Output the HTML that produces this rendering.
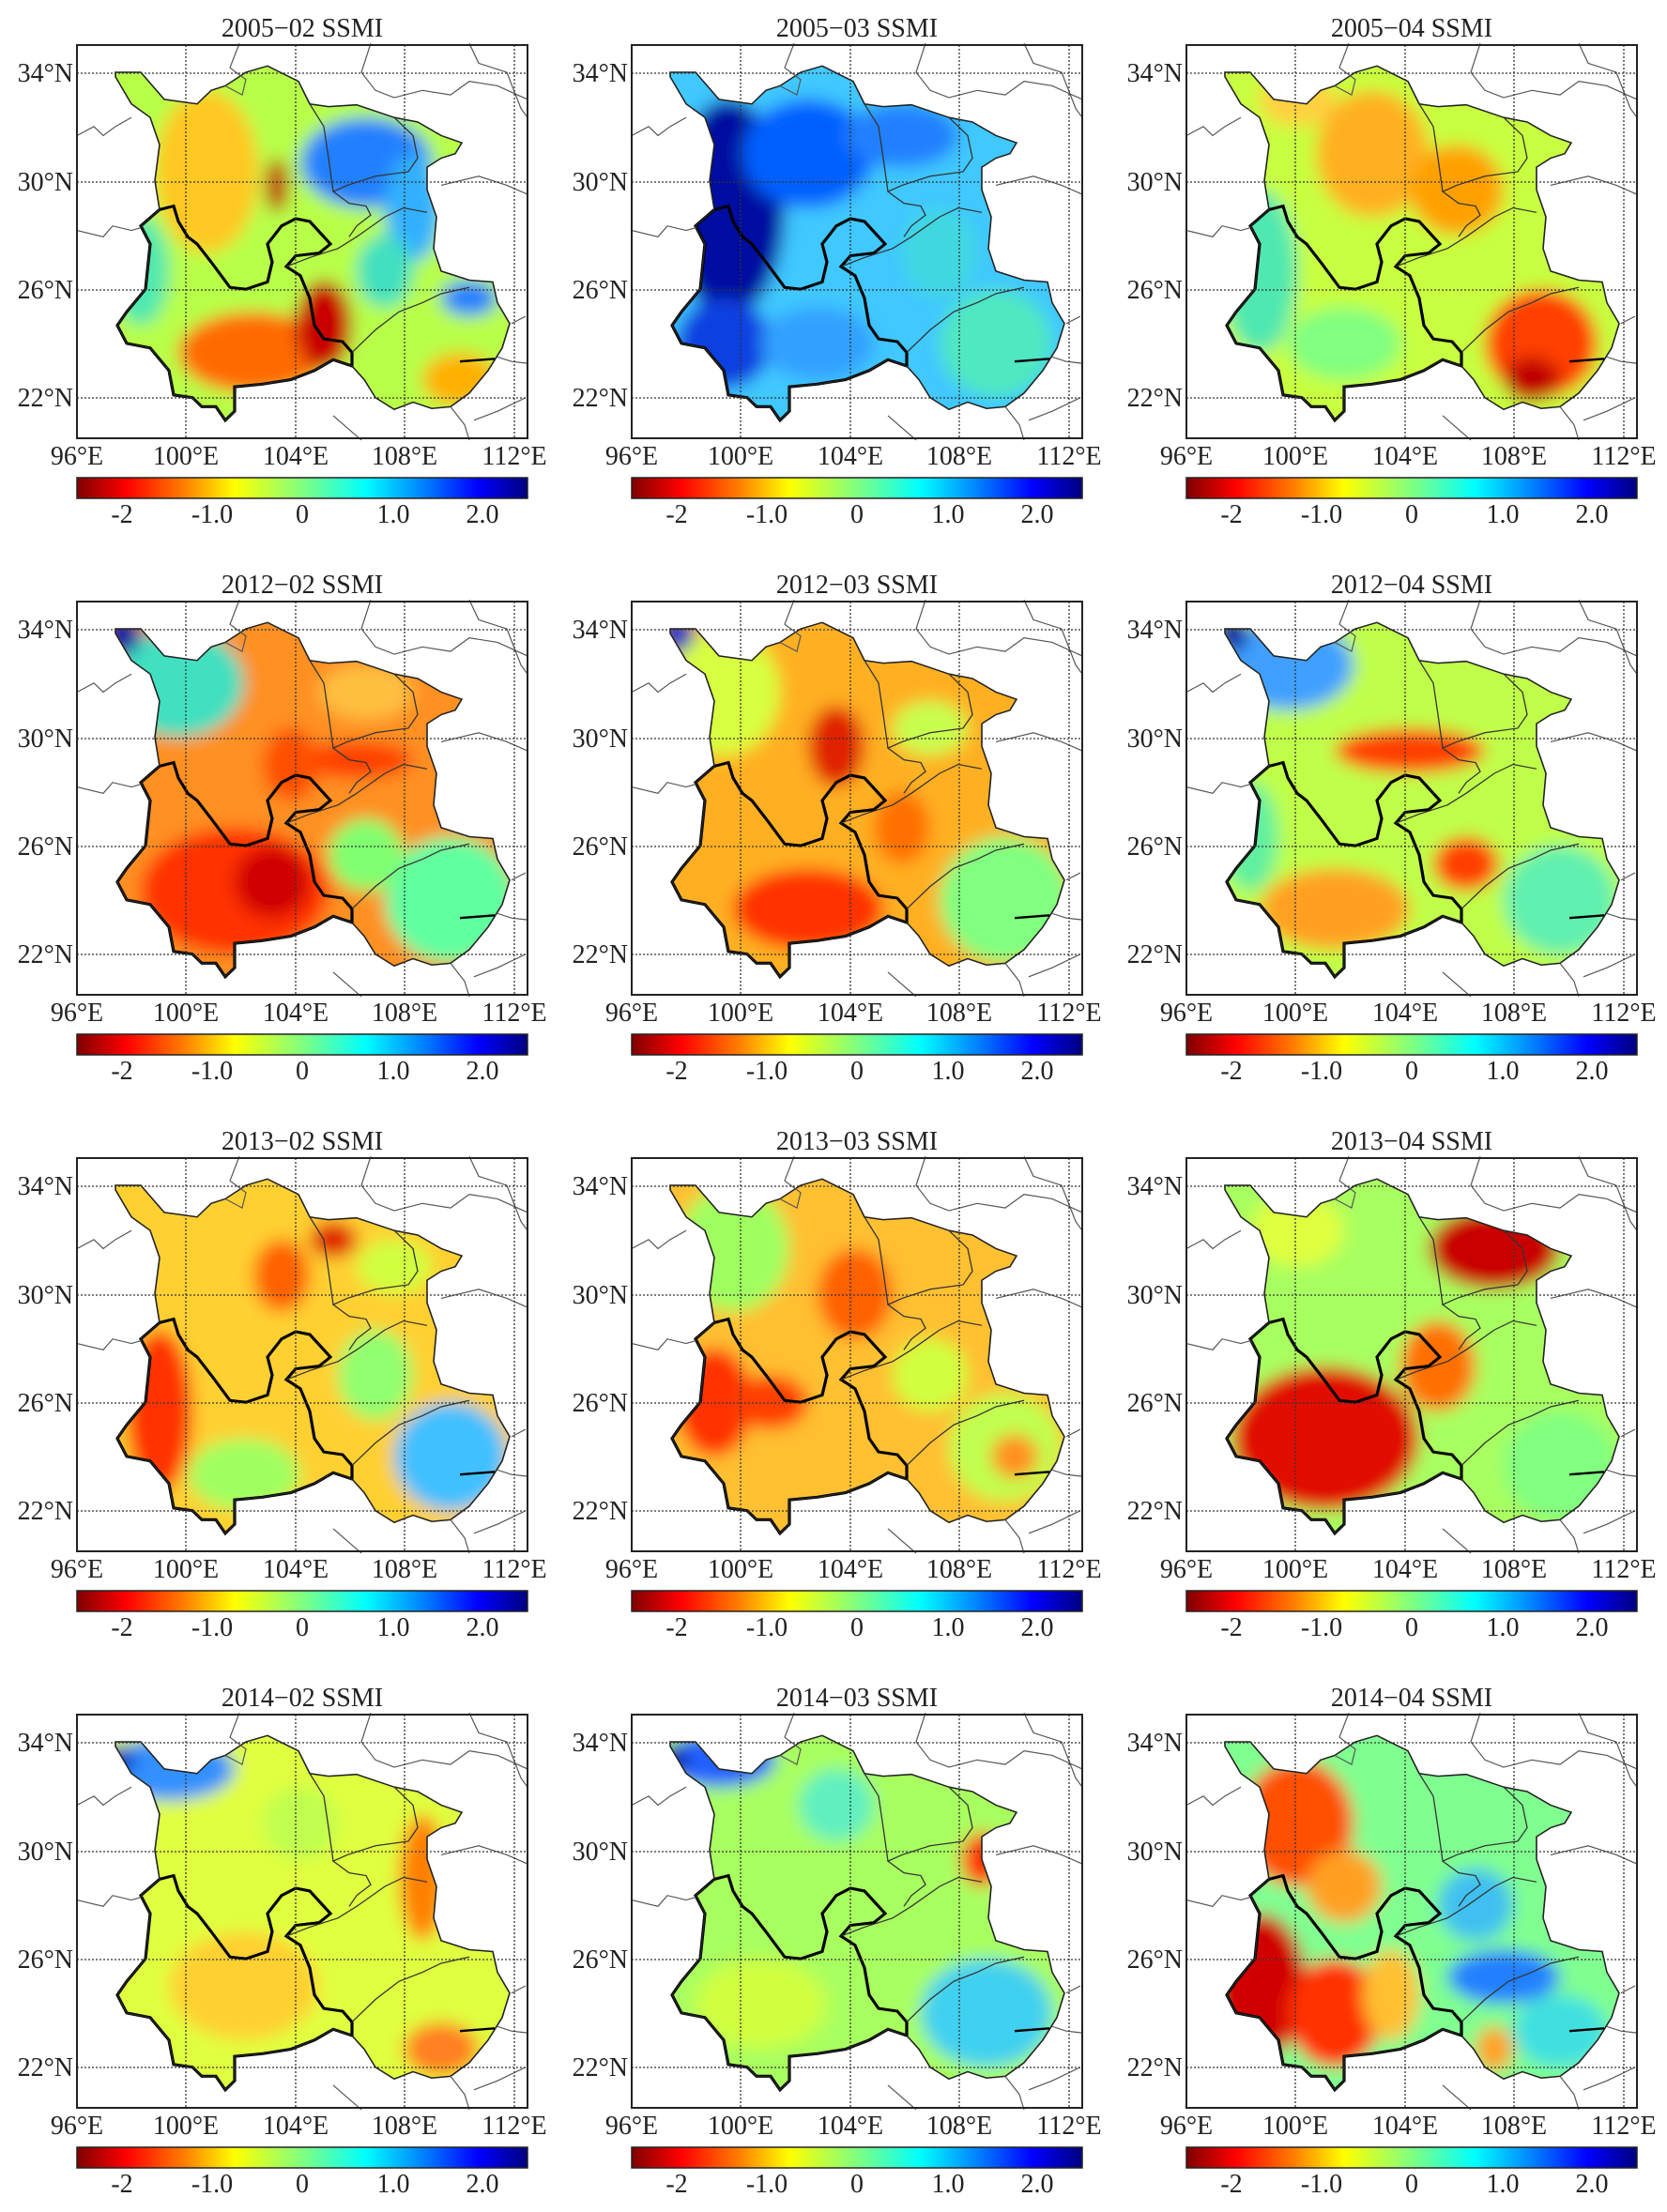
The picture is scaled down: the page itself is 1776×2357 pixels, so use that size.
<!DOCTYPE html>
<html><head><meta charset="utf-8">
<style>
html,body{margin:0;padding:0;background:#fff;}
#c{position:relative;width:1776px;height:2357px;overflow:hidden;background:#fff;}
svg.p{position:absolute;width:592px;height:593px;overflow:visible;}
text{font-family:"Liberation Serif",serif;font-size:28px;fill:#222;}
</style></head><body><div id="c">
<svg width="0" height="0" style="position:absolute">
<defs>
<linearGradient id="cb" x1="0" x2="1" y1="0" y2="0">
<stop offset="0" stop-color="#800000"/><stop offset="0.11" stop-color="#ff0000"/><stop offset="0.24" stop-color="#ff8000"/><stop offset="0.35" stop-color="#ffff00"/><stop offset="0.5" stop-color="#80ff80"/><stop offset="0.64" stop-color="#00ffff"/><stop offset="0.77" stop-color="#0080ff"/><stop offset="0.89" stop-color="#0000ff"/><stop offset="1" stop-color="#000080"/>
</linearGradient>
<path id="ol" d="M123,80 L150,80 L175,110 L210,115 L225,100 L240,95 L262,80 L285,73 L318,90 L330,115 L350,118 L380,116 L420,130 L445,135 L470,150 L492,158 L485,170 L470,175 L455,185 L455,210 L465,240 L462,275 L470,300 L500,310 L525,312 L530,335 L543,358 L535,385 L520,410 L500,435 L480,450 L460,452 L440,445 L420,453 L400,440 L388,420 L375,405 L355,398 L335,410 L310,420 L280,425 L250,428 L250,455 L240,465 L230,450 L215,450 L205,440 L185,437 L180,410 L160,385 L135,380 L125,360 L135,345 L155,320 L160,270 L150,250 L170,232 L165,200 L170,160 L160,130 L140,115 L123,85 Z"/>
<clipPath id="clip"><use href="#ol"/></clipPath>
<filter id="bl" filterUnits="userSpaceOnUse" x="0" y="0" width="600" height="600"><feGaussianBlur stdDeviation="9"/></filter>
<g id="lines">
<path d="M170,232 L185,228 L190,245 L200,262 L210,270 L225,290 L245,318 L262,320 L285,312 L290,290 L285,270 L300,250 L315,242 L330,245 L345,262 L352,270 L340,280 L315,283 L305,295 L320,305 L330,330 L335,360 L345,375 L365,378 L375,390 L375,405 L355,398 L335,410 L310,420 L280,425 L250,428 L250,455 L240,465 L230,450 L215,450 L205,440 L185,437 L180,410 L160,385 L135,380 L125,360 L135,345 L155,320 L160,270 L150,250 L170,232" fill="none" stroke="#000" stroke-width="3.2"/>
<use href="#ol" fill="none" stroke="#222" stroke-width="1.6"/>
<g fill="none" stroke="#333" stroke-width="1.3">
<path d="M420,130 L440,150 L445,175 L435,190 L400,195 L370,205 L355,212 L372,225 L390,228 L395,238 L380,250 L372,262"/>
<path d="M305,295 L330,285 L360,275 L380,262 L410,240 L430,230 L455,235"/>
<path d="M375,390 L400,365 L425,345 L450,335 L470,325 L500,318"/>
<path d="M330,115 L345,140 L350,175 L355,212"/>
</g>
<g fill="none" stroke="#555" stroke-width="1.2">
<path d="M255,48 L245,75 L262,88 L258,105 L240,95"/>
<path d="M395,48 L385,80 L400,100 L420,108 L450,100 L480,105 L500,90 L530,95 L562,110"/>
<path d="M500,48 L510,70 L540,80 L555,120 L562,130"/>
<path d="M82,150 L100,140 L110,150 L123,140 L140,130"/>
<path d="M82,255 L110,262 L120,250 L140,255 L150,252"/>
<path d="M470,205 L510,195 L540,205 L562,215"/>
<path d="M530,395 L545,400 L562,402"/>
<path d="M355,460 L385,487"/>
<path d="M480,450 L495,470 L500,487"/>
<path d="M505,465 L530,455 L560,440"/>
<path d="M545,358 L560,350"/>
</g>
<path d="M490,400 L527,397" stroke="#000" stroke-width="2.5"/>
</g>
</defs></svg>

<!-- Row 1 -->
<svg class="p" style="left:0;top:0"><text x="322" y="39" text-anchor="middle">2005−02 SSMI</text>
<g transform="scale(1,0.963)"><g clip-path="url(#clip)"><g filter="url(#bl)"><rect x="100" y="60" width="460" height="420" fill="#b8ff48"/>
<ellipse cx="220" cy="190" rx="55" ry="90" fill="#ffc820"/><ellipse cx="390" cy="180" rx="70" ry="50" fill="#2080ff"/><ellipse cx="440" cy="230" rx="30" ry="60" fill="#30b0ff"/><ellipse cx="270" cy="390" rx="80" ry="45" fill="#ff6a00"/><ellipse cx="345" cy="360" rx="30" ry="50" fill="#c80000"/><ellipse cx="410" cy="300" rx="30" ry="40" fill="#40e0c0"/><ellipse cx="490" cy="420" rx="40" ry="30" fill="#ffb000"/><ellipse cx="500" cy="330" rx="30" ry="20" fill="#2080ff"/><ellipse cx="150" cy="300" rx="30" ry="60" fill="#50e8b0"/><ellipse cx="295" cy="205" rx="12" ry="30" fill="#c00000"/></g></g>
<use href="#lines"/></g>
<g stroke="#333" stroke-width="1.3" stroke-dasharray="2 2"><path d="M198,48V467M315,48V467M431,48V467M548,48V467M82,78H562M82,194H562M82,309H562M82,424H562"/></g>
<rect x="82" y="48" width="480" height="419" fill="none" stroke="#222" stroke-width="2"/>
<g text-anchor="end"><text x="78" y="87">34°N</text><text x="78" y="203">30°N</text><text x="78" y="318">26°N</text><text x="78" y="433">22°N</text></g>
<g text-anchor="middle"><text x="82" y="495">96°E</text><text x="198" y="495">100°E</text><text x="315" y="495">104°E</text><text x="431" y="495">108°E</text><text x="548" y="495">112°E</text></g>
<rect x="82" y="509" width="480" height="22" fill="url(#cb)" stroke="#222" stroke-width="1.5"/>
<g text-anchor="middle"><text x="130" y="557">-2</text><text x="226" y="557">-1.0</text><text x="322" y="557">0</text><text x="419" y="557">1.0</text><text x="514" y="557">2.0</text></g></svg>

<svg class="p" style="left:591px;top:0"><text x="322" y="39" text-anchor="middle">2005−03 SSMI</text>
<g transform="scale(1,0.963)"><g clip-path="url(#clip)"><g filter="url(#bl)"><rect x="100" y="60" width="460" height="420" fill="#40c8ff"/>
<ellipse cx="185" cy="230" rx="60" ry="120" fill="#0010a0"/><ellipse cx="270" cy="170" rx="70" ry="60" fill="#0060ff"/><ellipse cx="370" cy="150" rx="60" ry="35" fill="#2080ff"/><ellipse cx="180" cy="380" rx="50" ry="50" fill="#1040e0"/><ellipse cx="280" cy="380" rx="60" ry="40" fill="#30a0ff"/><ellipse cx="470" cy="380" rx="60" ry="60" fill="#50e8c0"/><ellipse cx="410" cy="280" rx="40" ry="50" fill="#40d8e0"/></g></g>
<use href="#lines"/></g>
<g stroke="#333" stroke-width="1.3" stroke-dasharray="2 2"><path d="M198,48V467M315,48V467M431,48V467M548,48V467M82,78H562M82,194H562M82,309H562M82,424H562"/></g>
<rect x="82" y="48" width="480" height="419" fill="none" stroke="#222" stroke-width="2"/>
<g text-anchor="end"><text x="78" y="87">34°N</text><text x="78" y="203">30°N</text><text x="78" y="318">26°N</text><text x="78" y="433">22°N</text></g>
<g text-anchor="middle"><text x="82" y="495">96°E</text><text x="198" y="495">100°E</text><text x="315" y="495">104°E</text><text x="431" y="495">108°E</text><text x="548" y="495">112°E</text></g>
<rect x="82" y="509" width="480" height="22" fill="url(#cb)" stroke="#222" stroke-width="1.5"/>
<g text-anchor="middle"><text x="130" y="557">-2</text><text x="226" y="557">-1.0</text><text x="322" y="557">0</text><text x="419" y="557">1.0</text><text x="514" y="557">2.0</text></g></svg>

<svg class="p" style="left:1182px;top:0"><text x="322" y="39" text-anchor="middle">2005−04 SSMI</text>
<g transform="scale(1,0.963)"><g clip-path="url(#clip)"><g filter="url(#bl)"><rect x="100" y="60" width="460" height="420" fill="#c8ff40"/>
<ellipse cx="160" cy="300" rx="40" ry="90" fill="#50e8b0"/><ellipse cx="280" cy="170" rx="60" ry="70" fill="#ffb020"/><ellipse cx="370" cy="210" rx="50" ry="50" fill="#ffa000"/><ellipse cx="460" cy="380" rx="60" ry="60" fill="#ff4000"/><ellipse cx="450" cy="420" rx="30" ry="25" fill="#c00000"/><ellipse cx="250" cy="380" rx="60" ry="40" fill="#80ff80"/><ellipse cx="200" cy="110" rx="40" ry="30" fill="#ffd040"/></g></g>
<use href="#lines"/></g>
<g stroke="#333" stroke-width="1.3" stroke-dasharray="2 2"><path d="M198,48V467M315,48V467M431,48V467M548,48V467M82,78H562M82,194H562M82,309H562M82,424H562"/></g>
<rect x="82" y="48" width="480" height="419" fill="none" stroke="#222" stroke-width="2"/>
<g text-anchor="end"><text x="78" y="87">34°N</text><text x="78" y="203">30°N</text><text x="78" y="318">26°N</text><text x="78" y="433">22°N</text></g>
<g text-anchor="middle"><text x="82" y="495">96°E</text><text x="198" y="495">100°E</text><text x="315" y="495">104°E</text><text x="431" y="495">108°E</text><text x="548" y="495">112°E</text></g>
<rect x="82" y="509" width="480" height="22" fill="url(#cb)" stroke="#222" stroke-width="1.5"/>
<g text-anchor="middle"><text x="130" y="557">-2</text><text x="226" y="557">-1.0</text><text x="322" y="557">0</text><text x="419" y="557">1.0</text><text x="514" y="557">2.0</text></g></svg>

<!-- Row 2 -->
<svg class="p" style="left:0;top:593px"><text x="322" y="39" text-anchor="middle">2012−02 SSMI</text>
<g transform="scale(1,0.963)"><g clip-path="url(#clip)"><g filter="url(#bl)"><rect x="100" y="60" width="460" height="420" fill="#ff9020"/>
<ellipse cx="190" cy="140" rx="70" ry="60" fill="#40e0c0"/><ellipse cx="130" cy="85" rx="20" ry="25" fill="#0020a0"/><ellipse cx="250" cy="370" rx="100" ry="70" fill="#ff3000"/><ellipse cx="290" cy="360" rx="40" ry="40" fill="#d00000"/><ellipse cx="480" cy="380" rx="70" ry="70" fill="#60ffa0"/><ellipse cx="390" cy="330" rx="40" ry="40" fill="#80ff70"/><ellipse cx="380" cy="225" rx="60" ry="20" fill="#ff4000"/><ellipse cx="390" cy="150" rx="50" ry="30" fill="#ffc040"/><ellipse cx="310" cy="230" rx="30" ry="40" fill="#ff5000"/></g></g>
<use href="#lines"/></g>
<g stroke="#333" stroke-width="1.3" stroke-dasharray="2 2"><path d="M198,48V467M315,48V467M431,48V467M548,48V467M82,78H562M82,194H562M82,309H562M82,424H562"/></g>
<rect x="82" y="48" width="480" height="419" fill="none" stroke="#222" stroke-width="2"/>
<g text-anchor="end"><text x="78" y="87">34°N</text><text x="78" y="203">30°N</text><text x="78" y="318">26°N</text><text x="78" y="433">22°N</text></g>
<g text-anchor="middle"><text x="82" y="495">96°E</text><text x="198" y="495">100°E</text><text x="315" y="495">104°E</text><text x="431" y="495">108°E</text><text x="548" y="495">112°E</text></g>
<rect x="82" y="509" width="480" height="22" fill="url(#cb)" stroke="#222" stroke-width="1.5"/>
<g text-anchor="middle"><text x="130" y="557">-2</text><text x="226" y="557">-1.0</text><text x="322" y="557">0</text><text x="419" y="557">1.0</text><text x="514" y="557">2.0</text></g></svg>

<svg class="p" style="left:591px;top:593px"><text x="322" y="39" text-anchor="middle">2012−03 SSMI</text>
<g transform="scale(1,0.963)"><g clip-path="url(#clip)"><g filter="url(#bl)"><rect x="100" y="60" width="460" height="420" fill="#ffb020"/>
<ellipse cx="180" cy="150" rx="60" ry="70" fill="#d8ff40"/><ellipse cx="130" cy="85" rx="18" ry="22" fill="#0030c0"/><ellipse cx="270" cy="390" rx="80" ry="45" fill="#ff3000"/><ellipse cx="300" cy="210" rx="30" ry="45" fill="#e02000"/><ellipse cx="480" cy="380" rx="70" ry="70" fill="#80ff80"/><ellipse cx="400" cy="190" rx="40" ry="30" fill="#c8ff50"/><ellipse cx="370" cy="300" rx="30" ry="40" fill="#ff7000"/></g></g>
<use href="#lines"/></g>
<g stroke="#333" stroke-width="1.3" stroke-dasharray="2 2"><path d="M198,48V467M315,48V467M431,48V467M548,48V467M82,78H562M82,194H562M82,309H562M82,424H562"/></g>
<rect x="82" y="48" width="480" height="419" fill="none" stroke="#222" stroke-width="2"/>
<g text-anchor="end"><text x="78" y="87">34°N</text><text x="78" y="203">30°N</text><text x="78" y="318">26°N</text><text x="78" y="433">22°N</text></g>
<g text-anchor="middle"><text x="82" y="495">96°E</text><text x="198" y="495">100°E</text><text x="315" y="495">104°E</text><text x="431" y="495">108°E</text><text x="548" y="495">112°E</text></g>
<rect x="82" y="509" width="480" height="22" fill="url(#cb)" stroke="#222" stroke-width="1.5"/>
<g text-anchor="middle"><text x="130" y="557">-2</text><text x="226" y="557">-1.0</text><text x="322" y="557">0</text><text x="419" y="557">1.0</text><text x="514" y="557">2.0</text></g></svg>

<svg class="p" style="left:1182px;top:593px"><text x="322" y="39" text-anchor="middle">2012−04 SSMI</text>
<g transform="scale(1,0.963)"><g clip-path="url(#clip)"><g filter="url(#bl)"><rect x="100" y="60" width="460" height="420" fill="#c0ff48"/>
<ellipse cx="190" cy="120" rx="70" ry="50" fill="#40a0ff"/><ellipse cx="130" cy="85" rx="18" ry="22" fill="#0020a0"/><ellipse cx="320" cy="215" rx="80" ry="25" fill="#ff4000"/><ellipse cx="240" cy="390" rx="80" ry="45" fill="#ffa020"/><ellipse cx="380" cy="340" rx="35" ry="30" fill="#ff4000"/><ellipse cx="480" cy="380" rx="60" ry="60" fill="#60f0b0"/><ellipse cx="150" cy="310" rx="30" ry="60" fill="#60f0a0"/></g></g>
<use href="#lines"/></g>
<g stroke="#333" stroke-width="1.3" stroke-dasharray="2 2"><path d="M198,48V467M315,48V467M431,48V467M548,48V467M82,78H562M82,194H562M82,309H562M82,424H562"/></g>
<rect x="82" y="48" width="480" height="419" fill="none" stroke="#222" stroke-width="2"/>
<g text-anchor="end"><text x="78" y="87">34°N</text><text x="78" y="203">30°N</text><text x="78" y="318">26°N</text><text x="78" y="433">22°N</text></g>
<g text-anchor="middle"><text x="82" y="495">96°E</text><text x="198" y="495">100°E</text><text x="315" y="495">104°E</text><text x="431" y="495">108°E</text><text x="548" y="495">112°E</text></g>
<rect x="82" y="509" width="480" height="22" fill="url(#cb)" stroke="#222" stroke-width="1.5"/>
<g text-anchor="middle"><text x="130" y="557">-2</text><text x="226" y="557">-1.0</text><text x="322" y="557">0</text><text x="419" y="557">1.0</text><text x="514" y="557">2.0</text></g></svg>

<!-- Row 3 -->
<svg class="p" style="left:0;top:1186px"><text x="322" y="39" text-anchor="middle">2013−02 SSMI</text>
<g transform="scale(1,0.963)"><g clip-path="url(#clip)"><g filter="url(#bl)"><rect x="100" y="60" width="460" height="420" fill="#ffd030"/>
<ellipse cx="170" cy="330" rx="35" ry="90" fill="#ff3000"/><ellipse cx="300" cy="180" rx="30" ry="40" fill="#ff6000"/><ellipse cx="355" cy="140" rx="25" ry="20" fill="#e02000"/><ellipse cx="480" cy="380" rx="60" ry="60" fill="#40c0ff"/><ellipse cx="400" cy="290" rx="40" ry="50" fill="#90ff70"/><ellipse cx="260" cy="400" rx="60" ry="40" fill="#a0ff60"/><ellipse cx="420" cy="170" rx="40" ry="30" fill="#d0ff40"/></g></g>
<use href="#lines"/></g>
<g stroke="#333" stroke-width="1.3" stroke-dasharray="2 2"><path d="M198,48V467M315,48V467M431,48V467M548,48V467M82,78H562M82,194H562M82,309H562M82,424H562"/></g>
<rect x="82" y="48" width="480" height="419" fill="none" stroke="#222" stroke-width="2"/>
<g text-anchor="end"><text x="78" y="87">34°N</text><text x="78" y="203">30°N</text><text x="78" y="318">26°N</text><text x="78" y="433">22°N</text></g>
<g text-anchor="middle"><text x="82" y="495">96°E</text><text x="198" y="495">100°E</text><text x="315" y="495">104°E</text><text x="431" y="495">108°E</text><text x="548" y="495">112°E</text></g>
<rect x="82" y="509" width="480" height="22" fill="url(#cb)" stroke="#222" stroke-width="1.5"/>
<g text-anchor="middle"><text x="130" y="557">-2</text><text x="226" y="557">-1.0</text><text x="322" y="557">0</text><text x="419" y="557">1.0</text><text x="514" y="557">2.0</text></g></svg>

<svg class="p" style="left:591px;top:1186px"><text x="322" y="39" text-anchor="middle">2013−03 SSMI</text>
<g transform="scale(1,0.963)"><g clip-path="url(#clip)"><g filter="url(#bl)"><rect x="100" y="60" width="460" height="420" fill="#ffc030"/>
<ellipse cx="190" cy="150" rx="60" ry="70" fill="#a0ff60"/><ellipse cx="170" cy="320" rx="40" ry="60" fill="#ff3000"/><ellipse cx="230" cy="320" rx="40" ry="30" fill="#ff4000"/><ellipse cx="320" cy="200" rx="40" ry="50" fill="#ff6000"/><ellipse cx="480" cy="370" rx="60" ry="60" fill="#c0ff50"/><ellipse cx="490" cy="380" rx="25" ry="25" fill="#ff9020"/><ellipse cx="400" cy="290" rx="40" ry="40" fill="#d0ff40"/></g></g>
<use href="#lines"/></g>
<g stroke="#333" stroke-width="1.3" stroke-dasharray="2 2"><path d="M198,48V467M315,48V467M431,48V467M548,48V467M82,78H562M82,194H562M82,309H562M82,424H562"/></g>
<rect x="82" y="48" width="480" height="419" fill="none" stroke="#222" stroke-width="2"/>
<g text-anchor="end"><text x="78" y="87">34°N</text><text x="78" y="203">30°N</text><text x="78" y="318">26°N</text><text x="78" y="433">22°N</text></g>
<g text-anchor="middle"><text x="82" y="495">96°E</text><text x="198" y="495">100°E</text><text x="315" y="495">104°E</text><text x="431" y="495">108°E</text><text x="548" y="495">112°E</text></g>
<rect x="82" y="509" width="480" height="22" fill="url(#cb)" stroke="#222" stroke-width="1.5"/>
<g text-anchor="middle"><text x="130" y="557">-2</text><text x="226" y="557">-1.0</text><text x="322" y="557">0</text><text x="419" y="557">1.0</text><text x="514" y="557">2.0</text></g></svg>

<svg class="p" style="left:1182px;top:1186px"><text x="322" y="39" text-anchor="middle">2013−04 SSMI</text>
<g transform="scale(1,0.963)"><g clip-path="url(#clip)"><g filter="url(#bl)"><rect x="100" y="60" width="460" height="420" fill="#a8ff60"/>
<ellipse cx="410" cy="150" rx="70" ry="45" fill="#c80000"/><ellipse cx="230" cy="360" rx="100" ry="80" fill="#e01000"/><ellipse cx="350" cy="280" rx="40" ry="50" fill="#ff7000"/><ellipse cx="200" cy="130" rx="50" ry="40" fill="#e0ff40"/><ellipse cx="480" cy="390" rx="60" ry="60" fill="#80ff80"/></g></g>
<use href="#lines"/></g>
<g stroke="#333" stroke-width="1.3" stroke-dasharray="2 2"><path d="M198,48V467M315,48V467M431,48V467M548,48V467M82,78H562M82,194H562M82,309H562M82,424H562"/></g>
<rect x="82" y="48" width="480" height="419" fill="none" stroke="#222" stroke-width="2"/>
<g text-anchor="end"><text x="78" y="87">34°N</text><text x="78" y="203">30°N</text><text x="78" y="318">26°N</text><text x="78" y="433">22°N</text></g>
<g text-anchor="middle"><text x="82" y="495">96°E</text><text x="198" y="495">100°E</text><text x="315" y="495">104°E</text><text x="431" y="495">108°E</text><text x="548" y="495">112°E</text></g>
<rect x="82" y="509" width="480" height="22" fill="url(#cb)" stroke="#222" stroke-width="1.5"/>
<g text-anchor="middle"><text x="130" y="557">-2</text><text x="226" y="557">-1.0</text><text x="322" y="557">0</text><text x="419" y="557">1.0</text><text x="514" y="557">2.0</text></g></svg>

<!-- Row 4 -->
<svg class="p" style="left:0;top:1779px"><text x="322" y="39" text-anchor="middle">2014−02 SSMI</text>
<g transform="scale(1,0.963)"><g clip-path="url(#clip)"><g filter="url(#bl)"><rect x="100" y="60" width="460" height="420" fill="#e0ff40"/>
<ellipse cx="180" cy="110" rx="70" ry="35" fill="#3090ff"/><ellipse cx="125" cy="100" rx="20" ry="15" fill="#0030c0"/><ellipse cx="450" cy="230" rx="25" ry="70" fill="#ff8000"/><ellipse cx="470" cy="420" rx="40" ry="30" fill="#ff8020"/><ellipse cx="260" cy="350" rx="80" ry="60" fill="#ffd030"/><ellipse cx="320" cy="170" rx="40" ry="40" fill="#c0ff50"/></g></g>
<use href="#lines"/></g>
<g stroke="#333" stroke-width="1.3" stroke-dasharray="2 2"><path d="M198,48V467M315,48V467M431,48V467M548,48V467M82,78H562M82,194H562M82,309H562M82,424H562"/></g>
<rect x="82" y="48" width="480" height="419" fill="none" stroke="#222" stroke-width="2"/>
<g text-anchor="end"><text x="78" y="87">34°N</text><text x="78" y="203">30°N</text><text x="78" y="318">26°N</text><text x="78" y="433">22°N</text></g>
<g text-anchor="middle"><text x="82" y="495">96°E</text><text x="198" y="495">100°E</text><text x="315" y="495">104°E</text><text x="431" y="495">108°E</text><text x="548" y="495">112°E</text></g>
<rect x="82" y="509" width="480" height="22" fill="url(#cb)" stroke="#222" stroke-width="1.5"/>
<g text-anchor="middle"><text x="130" y="557">-2</text><text x="226" y="557">-1.0</text><text x="322" y="557">0</text><text x="419" y="557">1.0</text><text x="514" y="557">2.0</text></g></svg>

<svg class="p" style="left:591px;top:1779px"><text x="322" y="39" text-anchor="middle">2014−03 SSMI</text>
<g transform="scale(1,0.963)"><g clip-path="url(#clip)"><g filter="url(#bl)"><rect x="100" y="60" width="460" height="420" fill="#a8ff60"/>
<ellipse cx="175" cy="100" rx="60" ry="30" fill="#2060ff"/><ellipse cx="125" cy="100" rx="18" ry="15" fill="#0020a0"/><ellipse cx="455" cy="210" rx="22" ry="30" fill="#ff3000"/><ellipse cx="460" cy="380" rx="70" ry="60" fill="#40d0f0"/><ellipse cx="220" cy="370" rx="70" ry="50" fill="#d0ff40"/><ellipse cx="300" cy="150" rx="40" ry="40" fill="#60f0c0"/></g></g>
<use href="#lines"/></g>
<g stroke="#333" stroke-width="1.3" stroke-dasharray="2 2"><path d="M198,48V467M315,48V467M431,48V467M548,48V467M82,78H562M82,194H562M82,309H562M82,424H562"/></g>
<rect x="82" y="48" width="480" height="419" fill="none" stroke="#222" stroke-width="2"/>
<g text-anchor="end"><text x="78" y="87">34°N</text><text x="78" y="203">30°N</text><text x="78" y="318">26°N</text><text x="78" y="433">22°N</text></g>
<g text-anchor="middle"><text x="82" y="495">96°E</text><text x="198" y="495">100°E</text><text x="315" y="495">104°E</text><text x="431" y="495">108°E</text><text x="548" y="495">112°E</text></g>
<rect x="82" y="509" width="480" height="22" fill="url(#cb)" stroke="#222" stroke-width="1.5"/>
<g text-anchor="middle"><text x="130" y="557">-2</text><text x="226" y="557">-1.0</text><text x="322" y="557">0</text><text x="419" y="557">1.0</text><text x="514" y="557">2.0</text></g></svg>

<svg class="p" style="left:1182px;top:1779px"><text x="322" y="39" text-anchor="middle">2014−04 SSMI</text>
<g transform="scale(1,0.963)"><g clip-path="url(#clip)"><g filter="url(#bl)"><rect x="100" y="60" width="460" height="420" fill="#80ff90"/>
<ellipse cx="200" cy="170" rx="60" ry="70" fill="#ff5000"/><ellipse cx="250" cy="240" rx="40" ry="40" fill="#ffa020"/><ellipse cx="160" cy="350" rx="50" ry="80" fill="#d00000"/><ellipse cx="240" cy="380" rx="50" ry="60" fill="#ff3000"/><ellipse cx="300" cy="360" rx="30" ry="50" fill="#ffc030"/><ellipse cx="420" cy="340" rx="60" ry="30" fill="#2080ff"/><ellipse cx="390" cy="260" rx="40" ry="40" fill="#40c0f0"/><ellipse cx="480" cy="400" rx="50" ry="40" fill="#40e0e0"/><ellipse cx="410" cy="420" rx="20" ry="25" fill="#ffa020"/></g></g>
<use href="#lines"/></g>
<g stroke="#333" stroke-width="1.3" stroke-dasharray="2 2"><path d="M198,48V467M315,48V467M431,48V467M548,48V467M82,78H562M82,194H562M82,309H562M82,424H562"/></g>
<rect x="82" y="48" width="480" height="419" fill="none" stroke="#222" stroke-width="2"/>
<g text-anchor="end"><text x="78" y="87">34°N</text><text x="78" y="203">30°N</text><text x="78" y="318">26°N</text><text x="78" y="433">22°N</text></g>
<g text-anchor="middle"><text x="82" y="495">96°E</text><text x="198" y="495">100°E</text><text x="315" y="495">104°E</text><text x="431" y="495">108°E</text><text x="548" y="495">112°E</text></g>
<rect x="82" y="509" width="480" height="22" fill="url(#cb)" stroke="#222" stroke-width="1.5"/>
<g text-anchor="middle"><text x="130" y="557">-2</text><text x="226" y="557">-1.0</text><text x="322" y="557">0</text><text x="419" y="557">1.0</text><text x="514" y="557">2.0</text></g></svg>
</div></body></html>
